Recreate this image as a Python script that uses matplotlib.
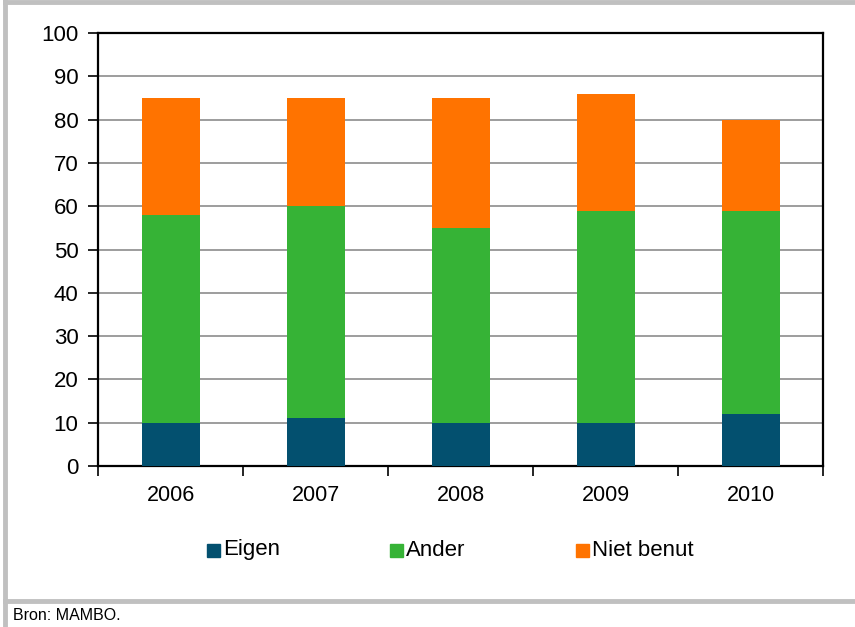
import matplotlib
matplotlib.use("Agg")
import matplotlib.pyplot as plt
from matplotlib.lines import Line2D
from matplotlib.patches import Rectangle

years = ["2006", "2007", "2008", "2009", "2010"]
eigen = [10, 11, 10, 10, 12]
ander = [48, 49, 45, 49, 47]
niet_benut = [27, 25, 30, 27, 21]

series_names = ["Eigen", "Ander", "Niet benut"]
colors = ["#03506F", "#36B336", "#FF7300"]

plt.rcParams["font.family"] = ["Liberation Sans", "DejaVu Sans"]

W, H = 855, 627
fig = plt.figure(figsize=(W / 100, H / 100), dpi=100)

def fx(px):
    return px / W

def fy(py):
    return 1 - py / H

ax = fig.add_axes([fx(98), fy(466), fx(823) - fx(98), fy(33) - fy(466)])

x = list(range(len(years)))
bottom2 = [a + b for a, b in zip(eigen, ander)]
ax.bar(x, eigen, width=0.4, color=colors[0], zorder=3)
ax.bar(x, ander, width=0.4, bottom=eigen, color=colors[1], zorder=3)
ax.bar(x, niet_benut, width=0.4, bottom=bottom2, color=colors[2], zorder=3)

ax.set_xlim(-0.5, len(years) - 0.5)
ax.set_ylim(0, 100)
ax.set_yticks(range(0, 101, 10))
ax.tick_params(axis="y", labelsize=16, length=7, width=1.2, direction="out", pad=7)
ax.yaxis.grid(True, color="#8C8C8C", linewidth=1.2, zorder=0)
ax.set_axisbelow(True)

ax.set_xticks(x)
ax.set_xticklabels(years)
ax.tick_params(axis="x", which="major", length=0, labelsize=15.5, pad=14)
ax.set_xticks([i - 0.5 for i in range(len(years) + 1)], minor=True)
ax.tick_params(axis="x", which="minor", length=7, width=1.2, direction="out")

for s in ax.spines.values():
    s.set_linewidth(1.6)
    s.set_color("black")

# legend row below the plot
legend_x = [207, 390, 576]
for lx, name, c in zip(legend_x, series_names, colors):
    fig.add_artist(Rectangle((fx(lx), fy(557)), fx(13), fy(544) - fy(557),
                             color=c, transform=fig.transFigure))
    fig.text(fx(lx + 16), fy(550), name, fontsize=16, va="center", ha="left")

# outer frame
gray = "#C0C0C0"
fig.add_artist(Line2D([fx(4.5), fx(4.5)], [fy(0), fy(627)], color=gray, lw=3.5, transform=fig.transFigure))
fig.add_artist(Line2D([fx(4.5), fx(855)], [fy(2), fy(2)], color=gray, lw=3.5, transform=fig.transFigure))
fig.add_artist(Line2D([fx(4.5), fx(855)], [fy(601), fy(601)], color=gray, lw=3.5, transform=fig.transFigure))

fig.text(fx(13), fy(616), "Bron: MAMBO.", fontsize=11.5, va="center", ha="left")

fig.savefig("out.png", dpi=100)
